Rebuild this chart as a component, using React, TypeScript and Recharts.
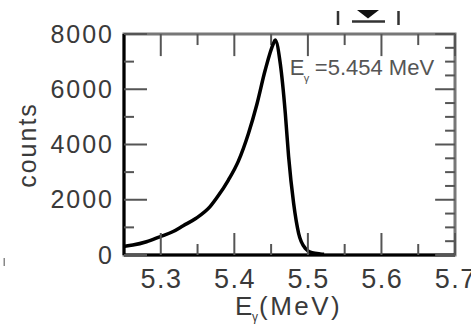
import React from 'react';
import { LineChart, Line, XAxis, YAxis, ReferenceLine, ReferenceArea, ReferenceDot, Label } from 'recharts';

// ---- data ----
const energies = [
  5.251, 5.262, 5.2806, 5.2987, 5.3168, 5.3305, 5.348, 5.367, 5.3783, 5.3919,
  5.4055, 5.4192, 5.4306, 5.442, 5.4533, 5.4556, 5.4624, 5.4693, 5.4738, 5.4806,
  5.4874, 5.4965, 5.5056, 5.517, 5.522,
];
const counts = [
  320, 360, 480, 660, 850, 1060, 1330, 1750, 2150, 2714,
  3400, 4400, 5450, 6696, 7662, 7780, 6938, 5128, 3557, 1871,
  785, 242, 83, 40, 30,
];
const xMajorTicks = [5.3, 5.4, 5.5, 5.6, 5.7];
const xMinorTicks = [5.35, 5.45, 5.55, 5.65];
const yMajorTicks = [0, 2000, 4000, 6000, 8000];
const yMinorTicks = [500, 1000, 1500, 2500, 3000, 3500, 4500, 5000, 5500, 6500, 7000, 7500];
const xDomain = [5.25, 5.7];
const yDomain = [0, 8000];
const xTitle = 'E';
const xTitleSub = 'γ';
const xTitleUnit = '(MeV)';
const yTitle = 'counts';
const annotationMain = 'E';
const annotationSub = 'γ';
const annotationRest = '=5.454 MeV';
const annotationAt = { e: 5.4755, c: 6515 };

const data = energies.map((e, i) => ({ e, c: counts[i] }));
const xTicks = [...xMajorTicks, ...xMinorTicks].sort((a, b) => a - b);
const yTicks = [...yMajorTicks, ...yMinorTicks].sort((a, b) => a - b);

// ---- layout ----
const W = 471;
const H = 329;
const PLOT_LEFT = 124;
const PLOT_RIGHT = 455;
const PLOT_TOP = 34;
const PLOT_BOTTOM = 255;
const FONT = '"Liberation Sans", Arial, Helvetica, sans-serif';
const TEXT = '#3a3a3a';
const TICK = '#555555';
const TOP_MAJOR_LEN = 800;
const TOP_MINOR_LEN = 400;
const RIGHT_MAJOR_LEN = 0.027;
const RIGHT_MINOR_LEN = 0.0135;

const isMajor = (list: number[], v: number) => list.some((t) => Math.abs(t - v) < 1e-9);

// bottom ticks drawn as paths
const BottomTick = (props: any) => {
  const { x, payload } = props;
  const v = payload.value as number;
  const major = isMajor(xMajorTicks, v);
  const len = major ? 22 : 11;
  return (
    <g>
      <path d={`M${x},${PLOT_BOTTOM}L${x},${PLOT_BOTTOM - len}`} stroke={TICK} strokeWidth={2} fill="none" />
      {major && (
        <text x={x + 0.75} y={288} textAnchor="middle" fontSize={27} letterSpacing={1.5} fill={TEXT} fontFamily={FONT}>
          {v.toFixed(1)}
        </text>
      )}
    </g>
  );
};

// left ticks drawn as filled rectangles
const LeftTick = (props: any) => {
  const { y, payload } = props;
  const v = payload.value as number;
  const major = isMajor(yMajorTicks, v);
  const len = major ? 23 : 10;
  return (
    <g>
      <rect x={PLOT_LEFT} y={y - 1} width={len} height={2} fill={TICK} />
      {major && (
        <text x={114} y={y + 8.5} textAnchor="end" fontSize={25} letterSpacing={2} fill={TEXT} fontFamily={FONT}>
          {String(v)}
        </text>
      )}
    </g>
  );
};

const SegPath = (props: any) => {
  const { x1, y1, x2, y2 } = props;
  if ([x1, y1, x2, y2].some((n) => typeof n !== 'number' || Number.isNaN(n))) return null;
  return <path d={`M${x1},${y1}L${x2},${y2}`} stroke={props.stroke} strokeWidth={props.strokeWidth} fill="none" />;
};

const XTitle = () => (
  <g fontFamily={FONT} fill={TEXT}>
    <text x={235} y={315} fontSize={26}>{xTitle}</text>
    <text x={252} y={321} fontSize={12}>{xTitleSub}</text>
    <text x={259} y={315} fontSize={26} letterSpacing={2.5}>{xTitleUnit}</text>
    <rect x={3.5} y={258} width={1.5} height={8} fill="#888" />
  </g>
);

const YTitle = () => (
  <g fontFamily={FONT}>
    <text transform="translate(36,145) rotate(-90)" textAnchor="middle" fontSize={25} letterSpacing={2} fill={TEXT}>
      {yTitle}
    </text>
    <line x1={338} x2={338} y1={11} y2={25} stroke="#333" strokeWidth={2.5} />
    <line x1={398.5} x2={398.5} y1={11} y2={25} stroke="#333" strokeWidth={2.5} />
    <line x1={352} x2={385} y1={21.5} y2={21.5} stroke="#333" strokeWidth={2.5} />
    <polygon points="357,10 379,10 368,18.5" fill="#111" />
  </g>
);

const Annotation = (props: any) => {
  const vb = props.viewBox || {};
  const x = (vb.x ?? 0) + (vb.width ?? 0) / 2;
  const y = (vb.y ?? 0) + (vb.height ?? 0) / 2;
  return (
    <g fontFamily={FONT} fill="#555">
      <text x={x} y={y} fontSize={22}>{annotationMain}</text>
      <text x={x + 14} y={y + 7} fontSize={11}>{annotationSub}</text>
      <text x={x + 25} y={y} fontSize={22}>{annotationRest}</text>
    </g>
  );
};

export default function App() {
  return (
    <div style={{ position: 'absolute', left: 0, top: 0, width: W, height: H }}>
      <LineChart
        width={W}
        height={H}
        data={data}
        margin={{ top: PLOT_TOP, right: W - PLOT_RIGHT, bottom: 0, left: 0 }}
      >
        <XAxis
          dataKey="e"
          type="number"
          domain={xDomain}
          ticks={xTicks}
          height={H - PLOT_BOTTOM}
          tickLine={false}
          tick={<BottomTick />}
          axisLine={false}
        >
          <Label content={<XTitle />} />
        </XAxis>
        <YAxis
          type="number"
          domain={yDomain}
          ticks={yTicks}
          width={PLOT_LEFT}
          tickLine={false}
          tick={<LeftTick />}
          axisLine={false}
        >
          <Label content={<YTitle />} />
        </YAxis>
        {/* frame: gray box, then dark left/bottom edges */}
        <ReferenceArea
          x1={xDomain[0]}
          x2={xDomain[1]}
          y1={yDomain[0]}
          y2={yDomain[1]}
          fill="none"
          fillOpacity={0}
          stroke="#777777"
          strokeWidth={3}
          strokeOpacity={1}
        />
        <ReferenceLine x={xDomain[0]} stroke="#000000" strokeWidth={3} shape={<SegPath />} />
        <ReferenceLine y={yDomain[0]} stroke="#000000" strokeWidth={3} shape={<SegPath />} />
        {xTicks.map((t) => (
          <ReferenceLine
            key={`tt${t}`}
            segment={[
              { x: t, y: yDomain[1] },
              { x: t, y: yDomain[1] - (isMajor(xMajorTicks, t) ? TOP_MAJOR_LEN : TOP_MINOR_LEN) },
            ]}
            stroke={TICK}
            strokeWidth={2}
          />
        ))}
        {yTicks.map((t) => (
          <ReferenceLine
            key={`rt${t}`}
            segment={[
              { x: xDomain[1], y: t },
              { x: xDomain[1] - (isMajor(yMajorTicks, t) ? RIGHT_MAJOR_LEN : RIGHT_MINOR_LEN), y: t },
            ]}
            stroke={TICK}
            strokeWidth={2}
            shape={<SegPath />}
          />
        ))}
        <ReferenceDot x={annotationAt.e} y={annotationAt.c} r={0} fill="none" stroke="none" label={<Annotation />} />
        <Line
          dataKey="c"
          type="monotone"
          stroke="#000"
          strokeWidth={3.5}
          dot={false}
          isAnimationActive={false}
        />
      </LineChart>
    </div>
  );
}
